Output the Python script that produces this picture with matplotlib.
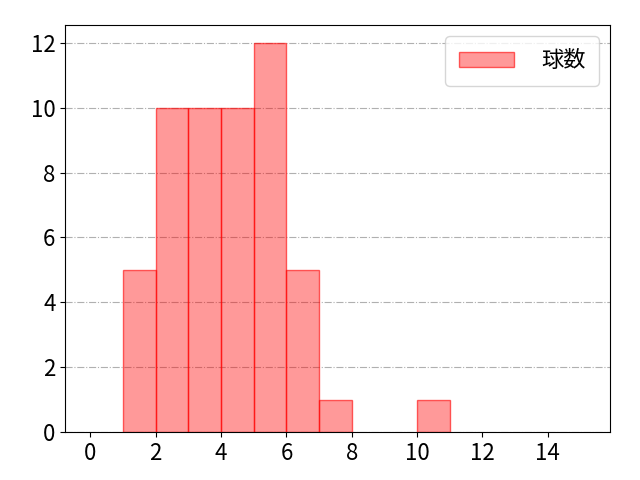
import matplotlib
matplotlib.use("Agg")
import matplotlib.pyplot as plt

plt.rcParams['font.family'] = ['Noto Sans CJK JP', 'DejaVu Sans']

bin_left = [1, 2, 3, 4, 5, 6, 7, 10]
counts = [5, 10, 10, 10, 12, 5, 1, 1]

fig, ax = plt.subplots(figsize=(6.4, 4.8), dpi=100)
ax.bar(bin_left, counts, width=1, align='edge', color=(1, 0, 0, 0.4),
       edgecolor=(1, 0, 0, 0.6), linewidth=1, label="球数")
ax.grid(axis='y', linestyle='-.', color='#b0b0b0', linewidth=0.8)
ax.set_axisbelow(True)
ax.set_xlim(-0.77, 15.9)
ax.set_ylim(0, 12.55)
ax.set_xticks(range(0, 15, 2))
ax.set_yticks(range(0, 13, 2))
ax.tick_params(labelsize=16)
ax.legend(loc='upper right', fontsize=16, handlelength=2.5, handletextpad=1.2,
          borderpad=0.6)
fig.subplots_adjust(left=0.102, right=0.953, top=0.948, bottom=0.1)
fig.savefig("out.png")
